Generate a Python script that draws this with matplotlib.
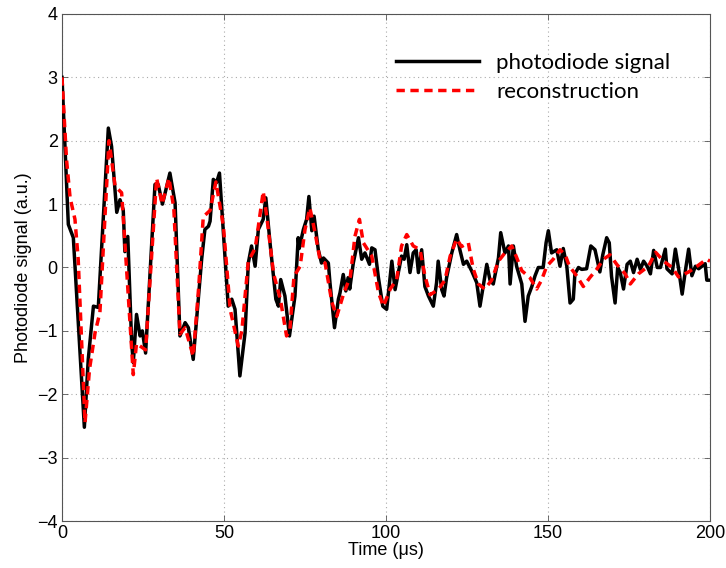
import matplotlib
matplotlib.use("Agg")
import matplotlib.pyplot as plt
import numpy as np

# photodiode signal (black)
black_t = [0, 1.95, 3.5, 6.9, 8.1, 9.7, 11.2, 14.3, 15.3, 16.9, 17.9, 18.9, 19.4, 20.3,
           21.5, 22.0, 23.0, 24.1, 24.8, 25.8, 28.7, 29.7, 31.0, 33.3, 34.9, 36.4, 38.0,
           39.0, 40.5, 43.1, 44.1, 45.2, 45.7, 46.7, 47.7, 48.6, 49.8, 51.3, 52.4, 53.4,
           54.9, 56.5, 57.5, 58.5, 59.6, 60.6, 62.1, 62.9, 64.2, 66.0, 66.8, 67.5, 68.8,
           70.2, 71.9, 72.9, 73.2, 74.5, 75.5, 76.2, 77.1, 77.8, 79.1, 80.1, 80.7, 82.2,
           82.7, 84.1, 85.3, 85.8, 86.8, 87.6, 88.3, 88.8, 89.9, 91.5, 92.5, 93.5, 94.9,
           95.6, 96.6, 97.6, 99.0, 100.2, 101.8, 102.8, 103.8, 104.8, 105.6, 106.4, 107.4,
           108.4, 109.3, 110.0, 111.0, 112.0, 113.1, 114.6, 115.6, 116.1, 117.2, 117.9,
           118.7, 120.3, 121.8, 122.8, 123.9, 124.9, 126.4, 128.0, 129.0, 130.0, 131.1,
           132.1, 133.1, 134.7, 135.4, 136.7, 137.8, 138.3, 139.3, 140.3, 141.9, 142.9,
           143.9, 145.0, 146.0, 147.0, 148.5, 149.4, 150.1, 151.1, 152.7, 153.7, 154.7,
           155.8, 156.8, 157.8, 158.3, 159.4, 160.4, 161.9, 163.2, 164.5, 166.0, 166.9,
           168.1, 168.9, 169.6, 170.7, 171.5, 172.3, 173.3, 174.4, 175.4, 176.4, 177.5,
           178.5, 179.5, 180.6, 181.6, 182.6, 183.7, 184.7, 186.2, 186.7, 188.3, 189.3,
           190.3, 191.4, 192.4, 193.4, 194.4, 195.5, 196.5, 197.5, 198.5, 199.0, 200.0]
black_y = [3.0, 0.68, 0.47, -2.52, -1.45, -0.61, -0.63, 2.2, 1.91, 0.87, 1.07, 0.91, 0.25, 0.49,
           -1.19, -1.50, -0.74, -1.08, -1.0, -1.35, 1.31, 1.31, 1.0, 1.49, 1.02, -1.08, -0.87,
           -0.95, -1.45, 0.13, 0.6, 0.65, 0.73, 1.39, 1.34, 1.49, 0.55, -0.61, -0.5, -0.66,
           -1.71, -1.03, 0.07, 0.34, 0.02, 0.6, 0.76, 1.1, 0.39, -0.5, -0.61, -0.19, -0.45,
           -1.08, -0.45, 0.47, 0.3, 0.6, 0.76, 1.12, 0.58, 0.81, 0.28, 0.07, 0.15, 0.07,
           -0.24, -0.95, -0.5, -0.4, -0.11, -0.37, -0.16, -0.34, 0.07, 0.47, 0.13, 0.23, 0.05,
           0.31, 0.28, -0.14, -0.61, -0.66, 0.1, -0.35, -0.08, 0.18, 0.13, 0.36, -0.08,
           0.23, 0.28, -0.08, 0.28, -0.3, -0.45, -0.61, -0.24, 0.1, -0.35, -0.45,
           -0.16, 0.23, 0.52, 0.28, 0.05, 0.1, -0.05, -0.24, -0.61, -0.3, 0.05,
           -0.2, -0.26, 0.15, 0.55, 0.23, 0.34, -0.26, 0.34, 0.02, -0.26, -0.85,
           -0.45, -0.3, -0.13, 0.0, 0.0, 0.39, 0.58, 0.23, 0.28, 0.02, 0.3,
           0.02, -0.56, -0.5, -0.1, 0.0, -0.03, -0.02, 0.34, 0.28, -0.07, 0.2,
           0.47, 0.39, -0.14, -0.56, 0.0, -0.08, -0.34, 0.05, 0.1, -0.08, 0.13,
           -0.03, 0.1, 0.02, -0.1, 0.27, 0.0, 0.0, 0.29, -0.02, -0.1, 0.29,
           -0.02, -0.42, -0.05, 0.29, -0.13, 0.02, -0.02, 0.02, 0.06, -0.2, -0.2]

# reconstruction (red dashed)
red_t = [0, 1.4, 2.5, 4.0, 5.0, 7.1, 8.5, 10.2, 11.7, 14.5, 16.4, 18.4, 19.4, 22.0, 23.0,
         25.8, 29.2, 30.9, 33.0, 34.5, 36.4, 38.0, 40.5, 42.2, 43.6, 45.7, 47.5, 49.8,
         51.9, 54.4, 55.5, 57.5, 59.6, 60.6, 62.1, 63.2, 65.3, 67.4, 69.3, 70.3, 71.6,
         73.5, 75.0, 76.5, 78.1, 79.6, 81.2, 83.3, 84.8, 87.0, 89.0, 90.4, 91.8, 93.0,
         95.6, 97.7, 99.2, 101.3, 103.3, 104.8, 106.4, 108.4, 110.5, 112.0, 113.6, 116.1,
         118.2, 119.8, 121.8, 123.3, 125.4, 126.9, 128.5, 130.5, 132.6, 134.7, 136.7,
         138.8, 140.3, 141.9, 144.4, 146.5, 148.0, 149.6, 151.6, 153.7, 155.3, 156.6,
         158.8, 160.9, 162.9, 165.0, 167.1, 169.1, 171.2, 173.8, 175.4, 177.9, 181.0,
         183.2, 185.7, 188.3, 190.3, 193.4, 196.0, 198.9, 200.0]
red_y = [3.0, 1.7, 1.1, 0.76, 0.13, -2.45, -1.6, -1.03, -0.71, 2.0, 1.28, 1.18, 0.4, -1.69, -1.2,
         -1.3, 1.41, 1.0, 1.41, 0.94, -1.05, -0.95, -1.4, -0.3, 0.8, 0.9, 1.35, 0.66,
         -0.66, -1.24, -1.0, 0.1, 0.3, 0.65, 1.2, 0.8, -0.1, -0.5, -1.08, -1.0, -0.14,
         0.02, 0.6, 0.94, 0.55, 0.13, 0.07, -0.55, -0.77, -0.4, -0.14, 0.49, 0.76, 0.39,
         0.18, -0.4, -0.61, -0.34, -0.19, 0.34, 0.52, 0.34, 0.28, -0.13, -0.43, -0.35,
         -0.2, 0.18, 0.45, 0.33, 0.39, -0.02, -0.26, -0.34, -0.2, 0.1, 0.23,
         0.34, 0.16, -0.05, -0.16, -0.34, -0.2, 0.02, 0.13, 0.28, 0.2, 0.02,
         -0.13, -0.3, -0.16, -0.03, 0.13, 0.2, 0.05, -0.1, -0.26, -0.1, 0.02,
         0.24, 0.1, 0.0, -0.15, -0.07, 0.02, 0.13, 0.1]

x_ticks = [0, 50, 100, 150, 200]
y_ticks = [-4, -3, -2, -1, 0, 1, 2, 3, 4]

fig = plt.figure(figsize=(7.26, 5.68), dpi=100)
ax = fig.add_axes([0.0854, 0.0827, 0.8926, 0.8927])

ax.plot(black_t, black_y, color='black', lw=2.5, label='photodiode signal', zorder=3,
        solid_joinstyle='round')
ax.plot(red_t, red_y, color='#ff0000', lw=2.5, ls=(0, (2.4, 1.6)), label='reconstruction', zorder=4)

ax.set_xlim(0, 200)
ax.set_ylim(-4, 4)
ax.set_xticks(x_ticks)
ax.set_yticks(y_ticks)
ax.set_xticklabels([str(v) for v in x_ticks], fontsize=13, family='Liberation Sans')
ax.set_yticklabels([str(v).replace('-', '\u2212') for v in y_ticks], fontsize=13, family='Liberation Sans')
ax.tick_params(direction='in', top=True, right=True, length=4, width=0.6, color='#555555', pad=3)
ax.grid(True, ls=(0, (1, 3)), color='#aaaaaa', lw=0.8)
for s in ax.spines.values():
    s.set_color('#555555')
    s.set_linewidth(0.8)

ax.set_xlabel('Time (\u03bcs)', fontsize=13, family='Liberation Sans', labelpad=0)
ax.set_ylabel('Photodiode signal (a.u.)', fontsize=13, family='Liberation Sans', labelpad=4)

leg = ax.legend(loc='upper right', bbox_to_anchor=(0.970, 0.962), frameon=False,
                prop={'family': 'Lato', 'size': 16}, handlelength=3.7, handletextpad=0.8,
                labelspacing=0.4)

fig.savefig('out.png', dpi=100)
